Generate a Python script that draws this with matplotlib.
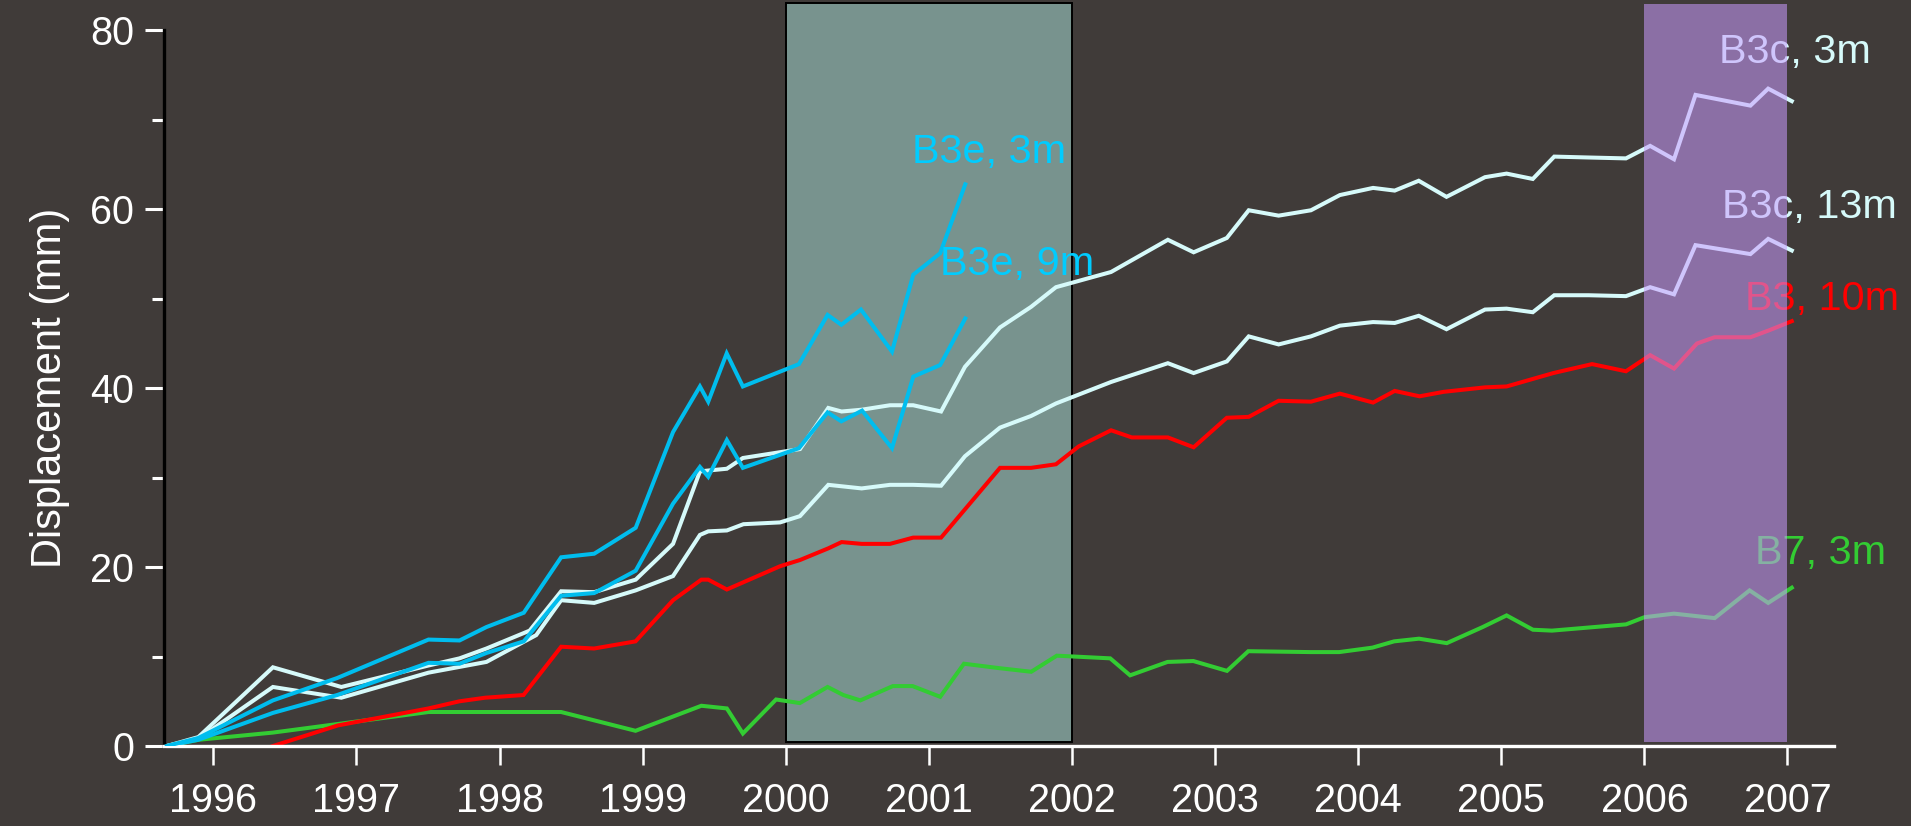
import matplotlib
matplotlib.use("Agg")
import matplotlib.pyplot as plt
from matplotlib.patches import Rectangle

plt.rcParams['font.family'] = ['Liberation Sans', 'DejaVu Sans']

# ---------------- data ----------------
b3e3_x = [1995.675, 1995.895, 1996.416, 1996.865, 1997.503, 1997.72, 1997.908, 1998.169,
          1998.43, 1998.661, 1998.951, 1999.212, 1999.40, 1999.458, 1999.587, 1999.70,
          2000.092, 2000.292, 2000.388, 2000.525, 2000.742, 2000.891, 2001.079, 2001.254]
b3e3_y = [0.0, 0.9, 5.1, 7.6, 11.9, 11.8, 13.3, 14.9,
          21.1, 21.5, 24.4, 35.1, 40.2, 38.5, 43.9, 40.2,
          42.7, 48.2, 47.1, 48.8, 44.1, 52.7, 55.1, 62.8]

b3e9_x = [1995.675, 1995.895, 1996.416, 1996.865, 1997.503, 1997.72, 1997.908, 1998.169,
          1998.43, 1998.661, 1998.951, 1999.212, 1999.40, 1999.458, 1999.588, 1999.70,
          2000.092, 2000.292, 2000.388, 2000.533, 2000.742, 2000.891, 2001.079, 2001.254]
b3e9_y = [0.0, 0.7, 3.7, 5.7, 9.3, 9.2, 10.4, 11.7,
          16.8, 17.1, 19.6, 27.1, 31.2, 30.1, 34.2, 31.1,
          33.3, 37.3, 36.3, 37.5, 33.3, 41.3, 42.6, 47.8]

b3c3_x = [1995.675, 1995.895, 1996.416, 1996.894, 1997.503, 1997.72, 1997.908, 1998.21,
          1998.43, 1998.661, 1998.951, 1999.212, 1999.40, 1999.458, 1999.588, 1999.70,
          2000.099, 2000.297, 2000.39, 2000.53, 2000.728, 2000.89, 2001.085, 2001.252,
          2001.497, 2001.714, 2001.888, 2002.273, 2002.67, 2002.85, 2003.082, 2003.235,
          2003.444, 2003.67, 2003.872, 2004.104, 2004.255, 2004.423, 2004.617, 2004.886,
          2005.037, 2005.22, 2005.37, 2005.61, 2005.871, 2006.04, 2006.207, 2006.357,
          2006.741, 2006.865, 2007.03]
b3c3_y = [0.0, 1.0, 8.8, 6.6, 9.0, 9.8, 10.9, 12.9,
          17.3, 17.2, 18.6, 22.6, 30.7, 30.8, 31.0, 32.2,
          33.2, 37.8, 37.4, 37.6, 38.1, 38.1, 37.4, 42.4,
          46.8, 49.1, 51.3, 53.0, 56.6, 55.2, 56.8, 59.9,
          59.3, 59.9, 61.6, 62.4, 62.1, 63.2, 61.4, 63.6,
          64.0, 63.4, 65.9, 65.8, 65.7, 67.1, 65.6, 72.8,
          71.6, 73.5, 72.1]

b3c13_x = [1995.675, 1995.895, 1996.416, 1996.894, 1997.503, 1997.908, 1998.256, 1998.43,
           1998.661, 1998.951, 1999.212, 1999.40, 1999.458, 1999.588, 1999.704, 1999.96,
           2000.099, 2000.297, 2000.53, 2000.728, 2000.89, 2001.085, 2001.252, 2001.497,
           2001.714, 2001.888, 2002.273, 2002.67, 2002.85, 2003.082, 2003.235, 2003.444,
           2003.67, 2003.872, 2004.104, 2004.255, 2004.423, 2004.617, 2004.886, 2005.037,
           2005.22, 2005.37, 2005.61, 2005.871, 2006.04, 2006.207, 2006.357, 2006.741,
           2006.865, 2007.03]
b3c13_y = [0.0, 0.8, 6.6, 5.4, 8.2, 9.4, 12.4, 16.3,
           16.0, 17.4, 19.0, 23.6, 24.0, 24.1, 24.8, 25.0,
           25.7, 29.2, 28.8, 29.2, 29.2, 29.1, 32.4, 35.6,
           36.9, 38.3, 40.7, 42.8, 41.7, 43.0, 45.8, 44.9,
           45.8, 47.0, 47.4, 47.3, 48.1, 46.6, 48.8, 48.9,
           48.5, 50.4, 50.4, 50.3, 51.3, 50.5, 56.0, 55.0,
           56.7, 55.4]

b3_10_x = [1996.416, 1996.87, 1997.503, 1997.72, 1997.90, 1998.167, 1998.43, 1998.66,
           1998.95, 1999.212, 1999.41, 1999.458, 1999.588, 1999.96, 2000.10, 2000.297,
           2000.39, 2000.53, 2000.728, 2000.89, 2001.085, 2001.497, 2001.714, 2001.888,
           2002.047, 2002.273, 2002.418, 2002.67, 2002.85, 2003.082, 2003.235, 2003.444,
           2003.67, 2003.872, 2004.104, 2004.255, 2004.429, 2004.597, 2004.886, 2005.037,
           2005.364, 2005.634, 2005.871, 2006.04, 2006.207, 2006.367, 2006.49, 2006.741,
           2006.875, 2007.03]
b3_10_y = [0.0, 2.3, 4.2, 5.0, 5.4, 5.7, 11.1, 10.9,
           11.7, 16.3, 18.6, 18.6, 17.5, 20.1, 20.8, 22.1,
           22.8, 22.6, 22.6, 23.3, 23.3, 31.1, 31.1, 31.5,
           33.5, 35.3, 34.5, 34.5, 33.4, 36.7, 36.8, 38.6,
           38.5, 39.4, 38.4, 39.7, 39.1, 39.6, 40.1, 40.2,
           41.7, 42.7, 41.9, 43.7, 42.2, 45.0, 45.7, 45.7,
           46.5, 47.5]

b7_x = [1995.675, 1995.9, 1996.416, 1997.503, 1998.43, 1998.95, 1999.41, 1999.588,
        1999.70, 1999.932, 2000.098, 2000.292, 2000.402, 2000.521, 2000.748, 2000.886,
        2001.079, 2001.245, 2001.494, 2001.715, 2001.894, 2002.267, 2002.406, 2002.668,
        2002.848, 2003.083, 2003.232, 2003.667, 2003.867, 2004.1, 2004.251, 2004.425,
        2004.619, 2004.87, 2005.037, 2005.221, 2005.354, 2005.872, 2006.0, 2006.207,
        2006.491, 2006.735, 2006.865, 2007.03]
b7_y = [0.0, 0.7, 1.5, 3.8, 3.8, 1.7, 4.5, 4.2,
        1.4, 5.2, 4.8, 6.6, 5.7, 5.1, 6.7, 6.7,
        5.5, 9.2, 8.7, 8.3, 10.1, 9.8, 7.9, 9.4,
        9.5, 8.4, 10.6, 10.5, 10.5, 11.0, 11.7, 12.0,
        11.5, 13.3, 14.6, 13.0, 12.9, 13.6, 14.4, 14.8,
        14.3, 17.4, 16.0, 17.7]

series_labels = ["B3e, 3m", "B3e, 9m", "B3c, 3m", "B3c, 13m", "B3, 10m", "B7, 3m"]
year_ticks = list(range(1996, 2008))
grey_period = (2000, 2002)
purple_period = (2006, 2007)

# ---------------- style ----------------
BG = '#403B39'
BLUE = '#00BDEE'
BLUE_TXT = '#00CCFF'
CYAN = '#D6FAFA'
RED = '#FF0000'
GREEN = '#33CC33'

fig = plt.figure(figsize=(19.11, 8.26), dpi=100, facecolor=BG)
ax = fig.add_axes([0.08608, 0.09685, 0.87363, 0.86623])
ax.set_facecolor(BG)

lw = 2.9
ax.plot(b7_x, b7_y, color=GREEN, lw=lw, zorder=2.1, solid_joinstyle='miter')
ax.plot(b3_10_x, b3_10_y, color=RED, lw=lw, zorder=2.2, solid_joinstyle='miter')
ax.plot(b3c13_x, b3c13_y, color=CYAN, lw=lw, zorder=2.3, solid_joinstyle='miter')
ax.plot(b3c3_x, b3c3_y, color=CYAN, lw=lw, zorder=2.4, solid_joinstyle='miter')
ax.plot(b3e9_x, b3e9_y, color=BLUE, lw=lw, zorder=2.5, solid_joinstyle='miter')
ax.plot(b3e3_x, b3e3_y, color=BLUE, lw=lw, zorder=2.6, solid_joinstyle='miter')

# shaded periods
ax.add_patch(Rectangle((grey_period[0], 0.5), grey_period[1] - grey_period[0], 82.6,
                       facecolor='#78938E', edgecolor='black', lw=1.4,
                       zorder=1, clip_on=False))
ax.add_patch(Rectangle((purple_period[0], 0.5), purple_period[1] - purple_period[0], 82.5,
                       facecolor=(202/255, 155/255, 1.0), alpha=0.55, edgecolor='none',
                       zorder=5, clip_on=False))

# labels
fs_lab = 29.8
ax.text(2000.88, 65.15, series_labels[0], color=BLUE_TXT, fontsize=fs_lab, zorder=3)
ax.text(2001.08, 52.7, series_labels[1], color=BLUE_TXT, fontsize=fs_lab, zorder=3)
ax.text(2006.52, 76.4, series_labels[2], color=CYAN, fontsize=fs_lab, zorder=3, clip_on=False)
ax.text(2006.54, 59.0, series_labels[3], color=CYAN, fontsize=fs_lab, zorder=3, clip_on=False)
ax.text(2006.70, 48.8, series_labels[4], color=RED, fontsize=fs_lab, zorder=3, clip_on=False)
ax.text(2006.77, 20.4, series_labels[5], color=GREEN, fontsize=fs_lab, zorder=3, clip_on=False)

ax.set_xlim(1995.6583, 2007.325)
ax.set_ylim(0, 80)

ax.set_xticks(year_ticks)
ax.set_xticklabels([str(y) for y in year_ticks])
ax.set_yticks([0, 20, 40, 60, 80])
ax.set_yticks([10, 30, 50, 70], minor=True)

ax.tick_params(axis='x', colors='white', labelsize=28.5, length=14, width=1.8,
               direction='out', pad=12)
ax.tick_params(axis='y', which='major', colors='white', labelsize=28.5, length=14,
               width=2.2, direction='out', pad=8)
ax.tick_params(axis='y', which='minor', colors='white', length=9, width=2.2,
               direction='out')

for s in ['top', 'right']:
    ax.spines[s].set_visible(False)
ax.spines['left'].set_color('black')
ax.spines['left'].set_linewidth(2.4)
ax.spines['bottom'].set_color('white')
ax.spines['bottom'].set_linewidth(2.4)

ax.set_ylabel("Displacement (mm)", color='white', fontsize=30, labelpad=14)

fig.savefig("out.png", dpi=100, facecolor=BG)
